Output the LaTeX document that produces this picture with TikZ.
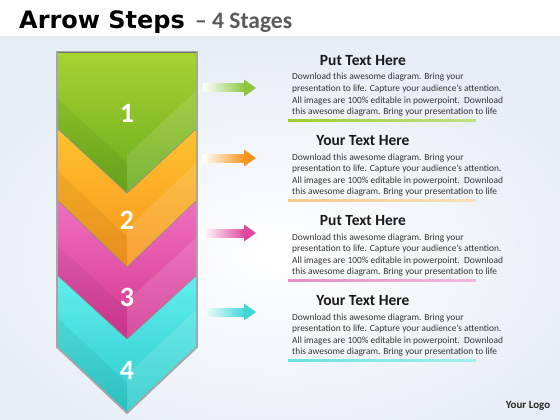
\documentclass[tikz,border=0pt]{standalone}
\usepackage{fontspec}
\setmainfont{Carlito}
\newfontfamily\titlefont{DejaVu Sans}
\definecolor{bgblue}{HTML}{E6EDF5}
\definecolor{greL}{HTML}{A6D432}
\definecolor{greD}{HTML}{6AAA1C}
\definecolor{oraL}{HTML}{FDC32E}
\definecolor{oraD}{HTML}{F7941D}
\definecolor{pinL}{HTML}{F070C0}
\definecolor{pinD}{HTML}{D2368F}
\definecolor{cyaL}{HTML}{62EEEE}
\definecolor{cyaD}{HTML}{2CCACA}
\definecolor{greA}{HTML}{8CC63F}
\definecolor{oraA}{HTML}{F7941D}
\definecolor{pinA}{HTML}{E0479E}
\definecolor{cyaA}{HTML}{3DD6D6}
\definecolor{greU}{HTML}{9ACD32}
\definecolor{oraU}{HTML}{F9C88E}
\definecolor{pinU}{HTML}{E78CC8}
\definecolor{cyaU}{HTML}{6AE3E3}
\definecolor{bodytext}{HTML}{333333}
\definecolor{subgray}{HTML}{5A5A5A}
\begin{document}
\begin{tikzpicture}[x=1pt,y=-1pt,
  numlabel/.style={text=white,font=\fontsize{28}{30}\selectfont\bfseries,inner sep=0pt},
  headlabel/.style={text=black!90,font=\fontsize{15.5}{17}\selectfont\bfseries,inner sep=0pt},
  bodyline/.style={text=bodytext,font=\fontsize{9.4}{11}\selectfont,inner sep=0pt,anchor=base west},
  edgeline/.style={draw=black!45,line width=0.6pt},
  framebox/.style={draw=gray!70,line width=1.8pt,line join=miter}]
\useasboundingbox (0,0) rectangle (560,420);
% background
\fill[bgblue] (0,0) rectangle (560,420);
\shade[inner color=white,outer color=bgblue] (-60,37) rectangle (620,470);
\fill[white] (0,0) rectangle (560,36);
% title
\node[anchor=base west,inner sep=0pt,font=\titlefont\fontsize{24}{26}\selectfont\bfseries] (title) at (19,29) {Arrow Steps};
\node[anchor=base west,inner sep=0pt,text=subgray,font=\fontsize{23.5}{26}\selectfont\bfseries] (subtitle) at (195,29) {– 4 Stages};
% chevrons (bottom one first)
\foreach \tp/\ed/\pt/\cl/\cd in {275/347/413/cyaL/cyaD, 200/275/339/pinL/pinD, 128/200/267/oraL/oraD, 52/128/193/greL/greD}{
  \shade[top color=\cl,bottom color=\cd] (57,\tp) -- (197,\tp) -- (197,\ed) -- (127,\pt) -- (57,\ed) -- cycle;
  \fill[white,opacity=0.12] (127,\pt) -- (197,\ed) -- (197,\ed-38) -- (127,\pt-38) -- cycle;
  \fill[black,opacity=0.05] (57,\ed) -- (127,\pt) -- (127,\pt-30) -- (57,\ed-30) -- cycle;
  \draw[edgeline] (57,\ed) -- (127,\pt) -- (197,\ed);
}
\draw[framebox] (57,52) -- (197,52) -- (197,347) -- (127,413) -- (57,347) -- cycle;
\draw[black!55,line width=0.8pt] (58,52) -- (196,52);
% numbers
\node[numlabel] (n1) at (127,113) {1};
\node[numlabel] (n2) at (127,220) {2};
\node[numlabel] (n3) at (127,297) {3};
\node[numlabel] (n4) at (127,370) {4};
% arrows
\foreach \y/\c in {88/greA,158/oraA,233/pinA,312/cyaA}{
  \shade[left color=white,right color=\c] (203,\y-4) -- (245,\y-4) -- (245,\y+4) -- (203,\y+4) -- cycle;
  \fill[\c] (244,\y-4) -- (244,\y-8.5) -- (256,\y) -- (244,\y+8.5) -- (244,\y+4) -- cycle;
}
% text blocks
\foreach \k/\hd/\uc in {0/Put Text Here/greU,1/Your Text Here/oraU,2/Put Text Here/pinU,3/Your Text Here/cyaU}{
  \pgfmathsetmacro{\yo}{80*\k}
  \node[headlabel] (h\k) at (363,61+\yo) {\hd};
  \node[bodyline] (b\k a) at (292,80+\yo) {Download this awesome diagram. Bring your};
  \node[bodyline] (b\k b) at (292,91.6+\yo) {presentation to life. Capture your audience’s attention.};
  \node[bodyline] (b\k c) at (292,103.2+\yo) {All images are 100\% editable in powerpoint.\ \ Download};
  \node[bodyline] (b\k d) at (292,114.8+\yo) {this awesome diagram. Bring your presentation to life};
  \shade[left color=\uc,right color=\uc!60] (288,119.5+\yo) rectangle (476,121+\yo);
}
\node[inner sep=0pt,font=\fontsize{11}{13}\selectfont\bfseries,text=black!85] (logo) at (528,406) {Your Logo};
\end{tikzpicture}
\end{document}
